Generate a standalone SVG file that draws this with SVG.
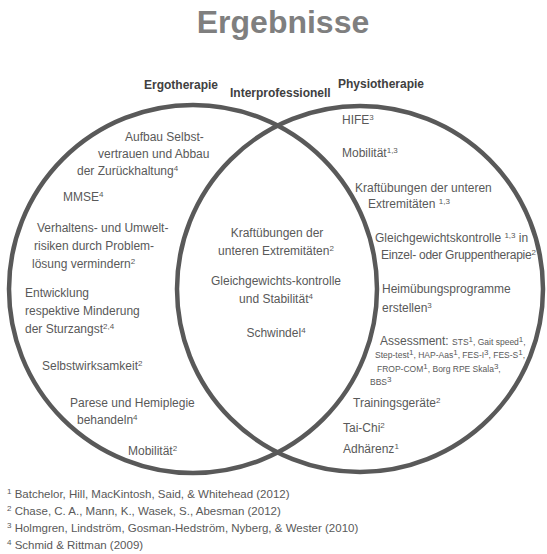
<svg xmlns="http://www.w3.org/2000/svg" width="547" height="554" viewBox="0 0 547 554">
  <style>
    text { font-family: "Liberation Sans", Arial, sans-serif; fill: #595959; }
    .title { font-size: 32px; font-weight: bold; fill: #7f7f7f; }
    .head { font-size: 12px; font-weight: bold; fill: #404040; }
    .item { font-size: 12px; }
    .tight { letter-spacing: -0.25px; }
    .small { font-size: 8.5px; }
    .sup { font-size: 8px; }
    .ref { font-size: 11.5px; }
    .ring { fill: none; stroke: #595959; stroke-width: 4.5; }
  </style>
  <rect width="547" height="554" fill="#ffffff"/>

  <text class="title" x="283" y="33" text-anchor="middle">Ergebnisse</text>

  <!-- Venn sets -->
  <g id="ergotherapie">
    <circle class="ring" cx="193" cy="289" r="184"/>
    <text class="head" x="144" y="89">Ergotherapie</text>
    <g class="item-list">
      <text class="item" x="125" y="141">Aufbau Selbst-</text>
      <text class="item" x="98" y="158">vertrauen und Abbau</text>
      <text class="item" x="77" y="175">der Zurückhaltung<tspan class="sup" dy="-4">4</tspan></text>
      <text class="item" x="63" y="201">MMSE<tspan class="sup" dy="-4">4</tspan></text>
      <text class="item" x="37" y="232">Verhaltens- und Umwelt-</text>
      <text class="item" x="34" y="250">risiken durch Problem-</text>
      <text class="item" x="32" y="268">lösung vermindern<tspan class="sup" dy="-4">2</tspan></text>
      <text class="item" x="25" y="297">Entwicklung</text>
      <text class="item" x="25" y="315">respektive Minderung</text>
      <text class="item" x="25" y="333">der Sturzangst<tspan class="sup" dy="-4">2,4</tspan></text>
      <text class="item" x="42" y="370">Selbstwirksamkeit<tspan class="sup" dy="-4">2</tspan></text>
      <text class="item" x="70" y="407">Parese und Hemiplegie</text>
      <text class="item" x="77" y="424">behandeln<tspan class="sup" dy="-4">4</tspan></text>
      <text class="item" x="128" y="455">Mobilität<tspan class="sup" dy="-4">2</tspan></text>
    </g>
  </g>

  <g id="physiotherapie">
    <circle class="ring" cx="360" cy="289" r="183"/>
    <text class="head" x="338" y="88">Physiotherapie</text>
    <g class="item-list">
      <text class="item" x="342" y="124">HIFE<tspan class="sup" dy="-4">3</tspan></text>
      <text class="item" x="342" y="157">Mobilität<tspan class="sup" dy="-4">1,3</tspan></text>
      <text class="item" x="355" y="192">Kraftübungen der unteren</text>
      <text class="item" x="368" y="208">Extremitäten <tspan class="sup" dy="-4">1,3</tspan></text>
      <text class="item" x="375" y="242">Gleichgewichtskontrolle <tspan class="sup" dy="-4">1,3</tspan><tspan dy="4"> in</tspan></text>
      <text class="item tight" x="381" y="259">Einzel- oder Gruppentherapie<tspan class="sup" dy="-4">2</tspan></text>
      <text class="item" x="382" y="293">Heimübungsprogramme</text>
      <text class="item" x="382" y="312">erstellen<tspan class="sup" dy="-4">3</tspan></text>
      <text class="item" x="380" y="345">Assessment: <tspan class="small">STS</tspan><tspan class="sup" dy="-3">1</tspan><tspan class="small" dy="3">, Gait speed</tspan><tspan class="sup" dy="-3">1</tspan><tspan class="small" dy="3">,</tspan></text>
      <text class="small" x="375" y="358">Step-test<tspan class="sup" dy="-3">1</tspan><tspan dy="3">, HAP-Aas</tspan><tspan class="sup" dy="-3">1</tspan><tspan dy="3">, FES-I</tspan><tspan class="sup" dy="-3">3</tspan><tspan dy="3">, FES-S</tspan><tspan class="sup" dy="-3">1</tspan><tspan dy="3">,</tspan></text>
      <text class="small" x="377" y="372">FROP-COM<tspan class="sup" dy="-3">1</tspan><tspan dy="3">, Borg RPE Skala</tspan><tspan class="sup" dy="-3">3</tspan><tspan dy="3">,</tspan></text>
      <text class="small" x="370" y="385">BBS<tspan class="sup" dy="-3">3</tspan></text>
      <text class="item" x="353" y="407">Trainingsgeräte<tspan class="sup" dy="-4">2</tspan></text>
      <text class="item" x="343" y="432">Tai-Chi<tspan class="sup" dy="-4">2</tspan></text>
      <text class="item" x="343" y="453">Adhärenz<tspan class="sup" dy="-4">1</tspan></text>
    </g>
  </g>

  <g id="interprofessionell">
    <text class="head" x="230" y="97">Interprofessionell</text>
    <g class="item-list" text-anchor="middle">
      <text class="item" x="277" y="237">Kraftübungen der</text>
      <text class="item" x="276" y="255">unteren Extremitäten<tspan class="sup" dy="-4">2</tspan></text>
      <text class="item" x="276" y="285">Gleichgewichts-kontrolle</text>
      <text class="item" x="276" y="303">und Stabilität<tspan class="sup" dy="-4">4</tspan></text>
      <text class="item" x="276" y="337">Schwindel<tspan class="sup" dy="-4">4</tspan></text>
    </g>
  </g>

  <!-- References -->
  <g id="references">
    <text class="ref" x="7" y="498"><tspan class="sup" dy="-4">1</tspan><tspan dy="4"> Batchelor, Hill, MacKintosh, Said, &amp; Whitehead (2012)</tspan></text>
    <text class="ref" x="7" y="515"><tspan class="sup" dy="-4">2</tspan><tspan dy="4"> Chase, C. A., Mann, K., Wasek, S., Abesman (2012)</tspan></text>
    <text class="ref" x="7" y="532"><tspan class="sup" dy="-4">3</tspan><tspan dy="4"> Holmgren, Lindström, Gosman-Hedström, Nyberg, &amp; Wester (2010)</tspan></text>
    <text class="ref" x="7" y="549"><tspan class="sup" dy="-4">4</tspan><tspan dy="4"> Schmid &amp; Rittman (2009)</tspan></text>
  </g>
</svg>
